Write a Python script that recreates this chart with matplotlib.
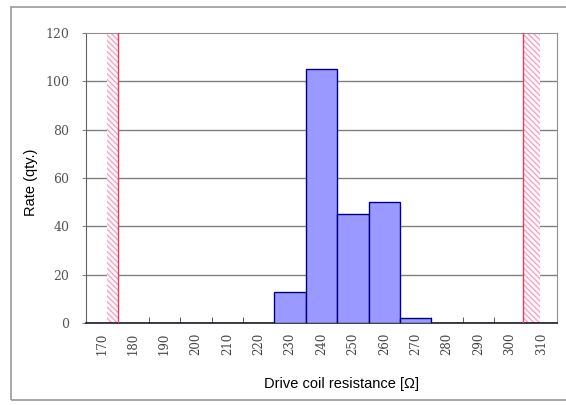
import matplotlib
matplotlib.use("Agg")
import matplotlib.pyplot as plt
from matplotlib.patches import Rectangle

# resistance classes (ohm) and counts
classes = [170, 180, 190, 200, 210, 220, 230, 240, 250, 260, 270, 280, 290, 300, 310]
counts = [0, 0, 0, 0, 0, 0, 13, 105, 45, 50, 2, 0, 0, 0, 0]
yticks = [0, 20, 40, 60, 80, 100, 120]

# spec limit bands (outside = hatched)
lower_band = (171.7, 175.2)
upper_band = (304.2, 309.6)

fig = plt.figure(figsize=(5.66, 4.05), dpi=100)
ax = fig.add_axes([86 / 566, 1 - 323 / 405, 471 / 566, 290 / 405])

# outer frame of the picture
fig.patches.append(Rectangle((11 / 566, 1 - 400 / 405), 1.0, 393 / 405,
                             transform=fig.transFigure, fill=False,
                             edgecolor="#9a9a9a", linewidth=1.2))

ax.set_xlim(classes[0] - 5, classes[-1] + 5)
ax.set_ylim(0, 120)

for y in yticks[1:-1]:
    ax.axhline(y, color="#808080", linewidth=1.0, zorder=1)

ax.bar(classes, counts, width=10, color="#9999ff", edgecolor="#000080",
       linewidth=1.0, zorder=3)

for lo, hi in (lower_band, upper_band):
    ax.axvspan(lo, hi, facecolor="white", edgecolor="#ff9fbf", hatch="\\\\\\\\\\\\",
               linewidth=0, zorder=2)
ax.axvline(lower_band[1], color="#e0405a", linewidth=1.0, zorder=4)
ax.axvline(upper_band[0], color="#e0405a", linewidth=1.0, zorder=4)

ax.set_xticks(classes)
ax.set_xticklabels([str(c) for c in classes], rotation=90, family="DejaVu Serif",
                   fontsize=8.5, color="#444444")
ax.set_xticks([c + 5 for c in classes[:-1]], minor=True)
ax.tick_params(axis="x", which="major", length=0, pad=7)
ax.tick_params(axis="x", which="minor", direction="in", length=4, color="#444444")

ax.set_yticks(yticks)
ax.set_yticklabels([str(v) for v in yticks], family="DejaVu Serif", fontsize=9,
                   color="#555555")
ax.tick_params(axis="y", length=3, color="#808080", pad=9)

for side in ("top", "right"):
    ax.spines[side].set_color("#909090")
ax.spines["left"].set_color("#606060")
ax.spines["bottom"].set_color("#202020")
ax.spines["bottom"].set_linewidth(1.2)

fig.text(31 / 566, 1 - 182 / 405, "Rate (qty.)", rotation=90, ha="center", va="center",
         family="Liberation Sans", fontsize=10.5)
fig.text(342 / 566, 1 - 384 / 405, "Drive coil resistance [\u03a9]", ha="center",
         va="center", family="Liberation Sans", fontsize=10.5)

fig.savefig("out.png", dpi=100)
